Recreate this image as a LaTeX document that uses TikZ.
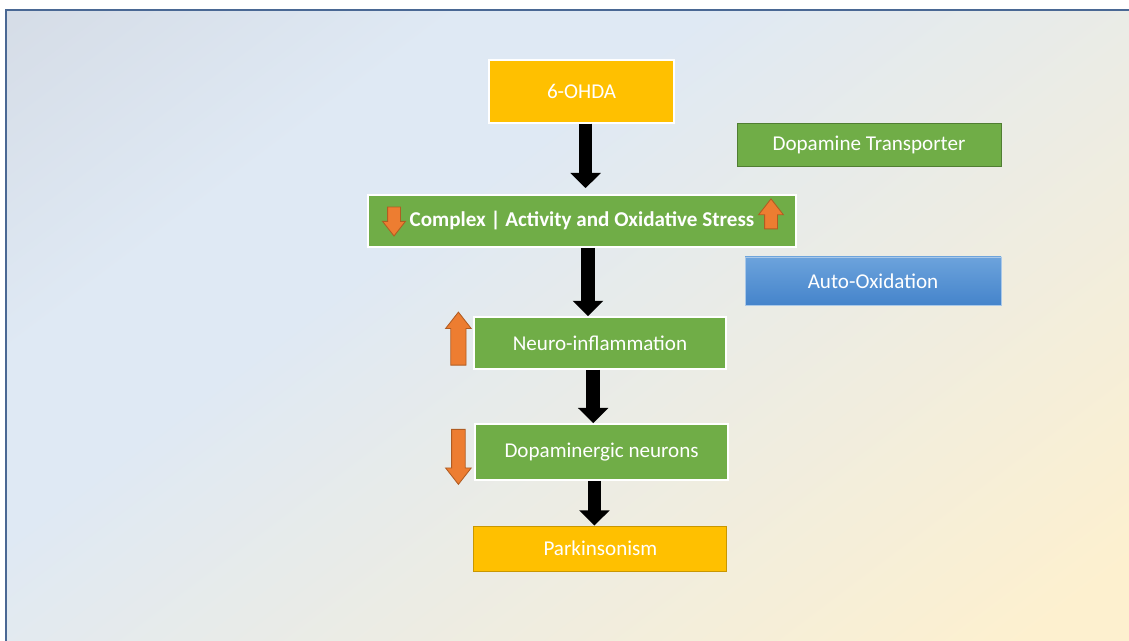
\documentclass[tikz,border=0pt]{standalone}
\usepackage{fontspec}
\setmainfont{Carlito}
\usetikzlibrary{arrows.meta,shapes.arrows}

\definecolor{ohdayellow}{HTML}{FFC000}
\definecolor{parkedge}{HTML}{C99700}
\definecolor{boxgreen}{HTML}{70AD47}
\definecolor{darkgreen}{HTML}{507E32}
\definecolor{trendorange}{HTML}{ED7D31}
\definecolor{trendedge}{HTML}{B05C22}
\definecolor{autotop}{HTML}{6CA3DC}
\definecolor{autobot}{HTML}{4584CB}
\definecolor{autoedge}{HTML}{A9C8E8}
\definecolor{bgtop}{HTML}{D5DCE6}
\definecolor{bgmid}{HTML}{DFE9F4}
\definecolor{bgbot}{HTML}{FDF0CF}
\definecolor{slideframe}{HTML}{4A6894}

% pgf fits the 25bp--75bp part of a shading to the path
\pgfdeclarehorizontalshading{slidebg}{100bp}{color(0bp)=(bgtop); color(25bp)=(bgtop); color(37bp)=(bgmid); color(43bp)=(bgmid); color(72bp)=(bgbot); color(100bp)=(bgbot)}

\tikzset{
  greenbox/.style={draw=white, line width=1.2pt, fill=boxgreen, text=white, inner sep=0pt,
    font=\fontsize{15}{18}\selectfont},
  yellowbox/.style={greenbox, fill=ohdayellow},
  blockarrow/.style={line width=0.34cm, -{Triangle[width=0.74cm,length=0.38cm]}},
  trendarrow/.style={single arrow, draw=trendedge, fill=trendorange, line width=0.6pt,
    inner xsep=0pt, minimum width=0pt, single arrow tip angle=76}
}

\begin{document}
\begin{tikzpicture}
  \useasboundingbox (0,0) rectangle (28.225,16.025);
  \fill[white] (0,0) rectangle (28.225,16.025);
  % slide background
  \begin{scope}
    \clip (0.15,0) rectangle (28.225,15.775);
    \begin{scope}[transform canvas={rotate around={-53:(14.19,7.89)}}]
      \shade[shading=slidebg] (-0.81,-9.11) rectangle (29.19,24.89);
    \end{scope}
  \end{scope}
  \draw[slideframe, line width=0.9pt] (0.15,0) -- (0.15,15.775) -- (28.225,15.775);

  % main chain
  \node[yellowbox, minimum width=4.625cm, minimum height=1.575cm] (ohda) at (14.54,13.74) {6-OHDA};
  \node[greenbox, minimum width=10.7cm, minimum height=1.3cm] (complex) at (14.55,10.5)
    {\bfseries Complex | Activity and Oxidative Stress};
  \node[greenbox, minimum width=6.3cm, minimum height=1.3cm] (neuro) at (15.0,7.45) {Neuro-inflammation};
  \node[greenbox, minimum width=6.325cm, minimum height=1.4cm] (dopa) at (15.04,4.725) {Dopaminergic neurons};
  \node[yellowbox, draw=parkedge, line width=0.6pt, minimum width=6.325cm, minimum height=1.125cm] (park) at (15.01,2.3125) {Parkinsonism};

  % side boxes
  \node[greenbox, draw=darkgreen, line width=0.6pt, minimum width=6.6cm, minimum height=1.075cm] (dat) at (21.725,12.41) {Dopamine Transporter};
  \node[greenbox, draw=autoedge, line width=0.6pt, top color=autotop, bottom color=autobot,
    minimum width=6.4cm, minimum height=1.2cm] (auto) at (21.825,9.0) {Auto-Oxidation};

  % up / down markers
  \node[trendarrow, rotate=-90, inner ysep=0.15cm, single arrow head extend=0.125cm, minimum height=0.725cm] (cdown) at (9.85,10.59) {};
  \node[trendarrow, rotate=90, inner ysep=0.15cm, single arrow head extend=0.15cm, minimum height=0.75cm] (cup) at (19.275,10.575) {};
  \node[trendarrow, rotate=90, inner ysep=0.18cm, single arrow head extend=0.13cm, minimum height=1.325cm] (nup) at (11.46,7.4375) {};
  \node[trendarrow, rotate=-90, inner ysep=0.16cm, single arrow head extend=0.15cm, minimum height=1.375cm] (ddown) at (11.46,4.7125) {};

  % black arrows
  \draw[blockarrow] ([xshift=0.1cm]ohda.south) -- ([xshift=0.1cm,yshift=0.15cm]ohda.south |- complex.north);
  \draw[blockarrow] ([xshift=0.15cm]complex.south) -- ([xshift=0.15cm]complex.south |- neuro.north);
  \draw[blockarrow] ([xshift=-0.17cm]neuro.south) -- ([xshift=-0.17cm]neuro.south |- dopa.north);
  \draw[blockarrow] ([xshift=-0.18cm]dopa.south) -- ([xshift=-0.18cm]dopa.south |- park.north);
\end{tikzpicture}
\end{document}
